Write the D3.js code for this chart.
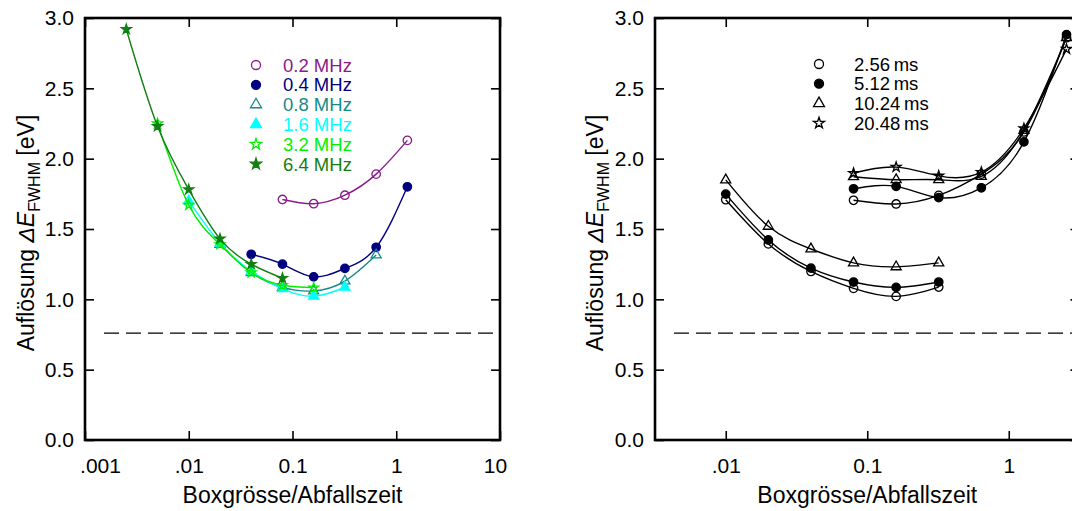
<!DOCTYPE html>
<html lang="de">
<head>
<meta charset="UTF-8">
<title>Auflösung gegen Boxgrösse</title>
<style>
  body { margin: 0; background: #fff; }
  svg { display: block; font-family: "Liberation Sans", Arial, sans-serif; }
</style>
<script src="https://d3js.org/d3.v7.min.js"></script>
</head>
<body>
<svg width="1072" height="511"></svg>
<script>
// shared y axis
const yTicks = [0, 0.5, 1, 1.5, 2, 2.5, 3];
const resLimit = 0.76;

// left panel: sampling rates
const leftXTicks = [0.001, 0.01, 0.1, 1, 10];
const leftXLabels = [".001", ".01", "0.1", "1", "10"];
const rateNames = ["0.2 MHz", "0.4 MHz", "0.8 MHz", "1.6 MHz", "3.2 MHz", "6.4 MHz"];
const rateColors = ["#8b1a8b", "#000080", "#148a8a", "#00ffff", "#00f000", "#137f13"];
const rateShapes = ["circle", "circle", "triangle", "triangle", "star", "star"];
const rateOpen = [true, false, true, false, true, false];

const box02 = [0.08, 0.16, 0.32, 0.64, 1.28];
const res02 = [1.71, 1.68, 1.74, 1.89, 2.13];
const box04 = [0.04, 0.08, 0.16, 0.32, 0.64, 1.28];
const res04 = [1.32, 1.25, 1.16, 1.22, 1.37, 1.80];
const box08 = [0.02, 0.04, 0.08, 0.16, 0.32, 0.64];
const res08 = [1.39, 1.19, 1.085, 1.06, 1.13, 1.315];
const box16 = [0.01, 0.02, 0.04, 0.08, 0.16, 0.32];
const res16 = [1.70, 1.40, 1.20, 1.075, 1.022, 1.086];
const box32 = [0.005, 0.01, 0.02, 0.04, 0.08, 0.16];
const res32 = [2.25, 1.67, 1.39, 1.19, 1.10, 1.083];
const box64 = [0.0025, 0.005, 0.01, 0.02, 0.04, 0.08];
const res64 = [2.92, 2.23, 1.78, 1.43, 1.25, 1.15];

// right panel: decay times
const rightXTicks = [0.01, 0.1, 1];
const rightXLabels = [".01", "0.1", "1"];
const timeNames = ["2.56\u2009ms", "5.12\u2009ms", "10.24\u2009ms", "20.48\u2009ms"];
const timeShapes = ["circle", "circle", "triangle", "star"];
const timeOpen = [true, false, true, true];

const boxShort = [0.01, 0.02, 0.04, 0.08, 0.16, 0.32];
const short256 = [1.708, 1.394, 1.198, 1.078, 1.021, 1.087];
const short512 = [1.748, 1.422, 1.222, 1.123, 1.085, 1.123];
const short1024 = [1.849, 1.519, 1.358, 1.259, 1.231, 1.259];
const boxLong = [0.08, 0.16, 0.32, 0.64, 1.28, 2.56];
const long256 = [1.704, 1.678, 1.739, 1.89, 2.19, 2.86];
const long512 = [1.786, 1.803, 1.723, 1.793, 2.119, 2.882];
const long1024 = [1.871, 1.850, 1.850, 1.874, 2.20, 2.86];
const long2048 = [1.897, 1.940, 1.878, 1.904, 2.215, 2.779];

const svg = d3.select("svg");
const plotTop = 18, plotBottom = 440;

const symbolTypes = { circle: d3.symbolCircle, triangle: d3.symbolTriangle, star: d3.symbolStar };
const symbolSizes = { circle: 56, triangle: 44, star: 30 };

function makePanel(opts) {
  const x = d3.scaleLog().domain(opts.xDomain).range(opts.xRange);
  const y = d3.scaleLinear().domain([0, 3]).range([plotBottom, plotTop]);
  const g = svg.append("g");
  const x0 = opts.xRange[0], x1 = opts.xRange[1];

  // axes, ticks pointing inward
  g.append("g").attr("transform", `translate(${x0},0)`)
    .call(d3.axisLeft(y).tickValues(yTicks).tickFormat(d3.format(".1f")).tickSize(-9).tickPadding(11));
  g.append("g").attr("transform", `translate(${x1},0)`)
    .call(d3.axisRight(y).tickValues(yTicks).tickFormat("").tickSize(-9));
  const xAxis = g.append("g").attr("transform", `translate(0,${plotBottom})`)
    .call(d3.axisBottom(x).tickValues(opts.xTicks).tickFormat((d, i) => opts.xLabels[i]).tickSize(-9).tickPadding(18));
  g.append("g").attr("transform", `translate(0,${plotTop})`)
    .call(d3.axisTop(x).tickValues(opts.xTicks).tickFormat("").tickSize(-9));

  g.selectAll(".domain").remove();
  g.selectAll(".tick line").attr("stroke", "#000").attr("stroke-width", 1.6);
  g.selectAll(".tick text").attr("font-size", 21).attr("fill", "#000")
    .attr("font-family", "'Liberation Sans', Arial, sans-serif");
  // first and last labels pulled inside like the original
  xAxis.selectAll(".tick text").attr("dx", (d, i) => i === 0 && opts.shiftFirst ? opts.shiftFirst : (i === opts.xTicks.length - 1 && opts.shiftLast ? opts.shiftLast : 0));

  // frame
  g.append("rect")
    .attr("x", x0).attr("y", plotTop)
    .attr("width", x1 - x0).attr("height", plotBottom - plotTop)
    .attr("fill", "none").attr("stroke", "#000").attr("stroke-width", 2.6);

  // resolution limit
  g.append("line")
    .attr("x1", x0 + 19).attr("x2", x1)
    .attr("y1", y(resLimit)).attr("y2", y(resLimit))
    .attr("stroke", "#000").attr("stroke-width", 1.3)
    .attr("stroke-dasharray", "15,7");

  // axis titles
  const yl = g.append("text")
    .attr("transform", `translate(${opts.yLabelX},233) rotate(-90)`)
    .attr("text-anchor", "middle").attr("font-size", 23).attr("fill", "#000");
  yl.append("tspan").text("Auflösung ");
  yl.append("tspan").attr("font-style", "italic").text("\u0394E");
  yl.append("tspan").attr("font-size", 16).attr("dy", 6).text("FWHM");
  yl.append("tspan").attr("dy", -6).text(" [eV]");

  g.append("text")
    .attr("x", (x0 + opts.xLabelRight) / 2).attr("y", 503)
    .attr("text-anchor", "middle").attr("font-size", 23).attr("fill", "#000")
    .text("Boxgrösse/Abfallszeit");

  return { g, x, y };
}

function drawSeries(p, s) {
  const line = d3.line().x(d => p.x(d[0])).y(d => p.y(d[1])).curve(d3.curveNatural);
  const pts = d3.zip(s.x, s.y);
  p.g.append("path").datum(pts)
    .attr("d", line).attr("fill", "none")
    .attr("stroke", s.color).attr("stroke-width", 1.4);
  p.g.append("g").selectAll("path").data(pts).join("path")
    .attr("transform", d => `translate(${p.x(d[0])},${p.y(d[1])})`)
    .attr("d", d3.symbol(symbolTypes[s.shape], symbolSizes[s.shape]))
    .attr("fill", s.open ? "none" : s.color)
    .attr("stroke", s.color).attr("stroke-width", 1.3);
}

function drawLegend(p, names, shapes, opens, colors, mx, tx, y0, step, textColored) {
  names.forEach((name, i) => {
    const cy = y0 + i * step;
    p.g.append("path")
      .attr("transform", `translate(${mx},${cy})`)
      .attr("d", d3.symbol(symbolTypes[shapes[i]], symbolSizes[shapes[i]] + 8))
      .attr("fill", opens[i] ? "none" : colors[i])
      .attr("stroke", colors[i]).attr("stroke-width", 1.3);
    p.g.append("text")
      .attr("x", tx).attr("y", cy + 6.5)
      .attr("font-size", 18.5)
      .attr("fill", textColored ? colors[i] : "#000")
      .text(name);
  });
}

// left panel
const left = makePanel({
  xDomain: [0.001, 10], xRange: [85, 500],
  xTicks: leftXTicks, xLabels: leftXLabels,
  shiftFirst: 15, shiftLast: -5,
  yLabelX: 34, xLabelRight: 500
});
const leftBoxes = [box02, box04, box08, box16, box32, box64];
const leftRes = [res02, res04, res08, res16, res32, res64];
rateNames.forEach((n, i) => drawSeries(left, {
  x: leftBoxes[i], y: leftRes[i], color: rateColors[i], shape: rateShapes[i], open: rateOpen[i]
}));
drawLegend(left, rateNames, rateShapes, rateOpen, rateColors, 256, 283, 65, 19.8, true);

// right panel
const right = makePanel({
  xDomain: [Math.pow(10, -2.5), Math.pow(10, 0.5)], xRange: [655, 1079.5],
  xTicks: rightXTicks, xLabels: rightXLabels,
  yLabelX: 603, xLabelRight: 1079.5
});
const shortSets = [short256, short512, short1024];
const longSets = [long256, long512, long1024, long2048];
shortSets.forEach((ys, i) => drawSeries(right, {
  x: boxShort, y: ys, color: "#000", shape: timeShapes[i], open: timeOpen[i]
}));
longSets.forEach((ys, i) => drawSeries(right, {
  x: boxLong, y: ys, color: "#000", shape: timeShapes[i], open: timeOpen[i]
}));
drawLegend(right, timeNames, timeShapes, timeOpen, ["#000", "#000", "#000", "#000"], 819, 854, 64, 19.7, false);
</script>
</body>
</html>
